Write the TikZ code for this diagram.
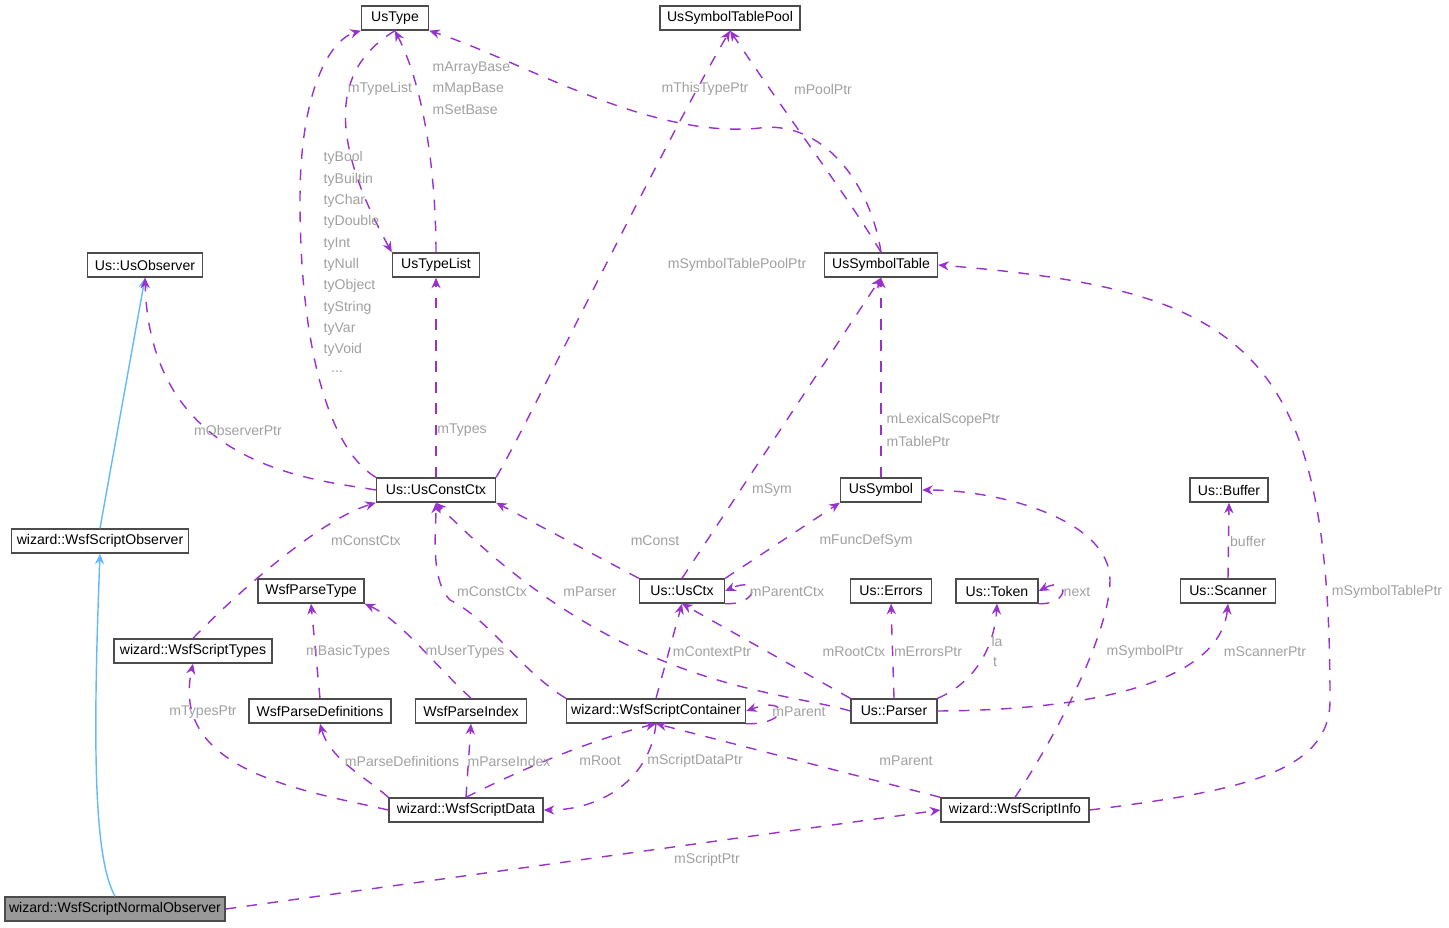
\documentclass[tikz,border=0pt]{standalone}
\usepackage{fontspec}
\setmainfont{Liberation Sans}
\usetikzlibrary{arrows.meta}
\definecolor{usepurple}{RGB}{153,50,204}
\definecolor{inhblue}{RGB}{99,184,255}
\definecolor{lblgray}{RGB}{160,160,160}
\tikzset{
  cls/.style={draw=black!70, fill=white, inner sep=0pt, minimum height=24\unitpx,
    font=\fontsize{4}{5}\selectfont},
  uses/.style={draw=usepurple, dashed, thin, -{Stealth[length=3pt,width=2.6pt]}},
  inh/.style={draw=inhblue, thin, -{Stealth[length=3pt,width=2.6pt]}},
  lbl/.style={text=lblgray, font=\fontsize{4}{5}\selectfont, inner sep=0pt, align=left},
}
\newlength{\unitpx}\setlength{\unitpx}{0.01cm}
\begin{document}
\begin{tikzpicture}[x=0.01cm,y=-0.01cm]
\useasboundingbox (0,0) rectangle (1449,928);
% classes
\node[cls, minimum width=67\unitpx] (ustype) at (395,18) {UsType};
\node[cls, minimum width=140\unitpx] (pool) at (730,18) {UsSymbolTablePool};
\node[cls, minimum width=115\unitpx] (observer) at (145,265) {Us::UsObserver};
\node[cls, minimum width=87\unitpx] (typelist) at (436,265) {UsTypeList};
\node[cls, minimum width=113\unitpx] (symtab) at (881,265) {UsSymbolTable};
\node[cls, minimum width=119\unitpx] (constctx) at (436,490) {Us::UsConstCtx};
\node[cls, minimum width=81\unitpx] (symbol) at (881,490) {UsSymbol};
\node[cls, minimum width=78\unitpx] (buffer) at (1229,490) {Us::Buffer};
\node[cls, minimum width=177\unitpx] (scriptobs) at (100,541) {wizard::WsfScriptObserver};
\node[cls, minimum width=106\unitpx] (parsetype) at (311,591) {WsfParseType};
\node[cls, minimum width=85\unitpx] (usctx) at (682,591) {Us::UsCtx};
\node[cls, minimum width=81\unitpx] (errors) at (891,591) {Us::Errors};
\node[cls, minimum width=82\unitpx] (token) at (997,591) {Us::Token};
\node[cls, minimum width=95\unitpx] (scanner) at (1228,591) {Us::Scanner};
\node[cls, minimum width=158\unitpx] (types) at (193,651) {wizard::WsfScriptTypes};
\node[cls, minimum width=142\unitpx] (parsedefs) at (320,711) {WsfParseDefinitions};
\node[cls, minimum width=111\unitpx] (parseidx) at (471,711) {WsfParseIndex};
\node[cls, minimum width=179\unitpx] (container) at (656,711) {wizard::WsfScriptContainer};
\node[cls, minimum width=86\unitpx] (parser) at (894,711) {Us::Parser};
\node[cls, minimum width=154\unitpx] (data) at (466,810) {wizard::WsfScriptData};
\node[cls, minimum width=148\unitpx] (info) at (1015,810) {wizard::WsfScriptInfo};
\node[cls, minimum width=220\unitpx, fill=black!40] (normal) at (115,909) {wizard::WsfScriptNormalObserver};
% inheritance
\draw[inh] (scriptobs.north) -- (observer.south);
\draw[inh] (normal.north) .. controls (95,860) and (92,760) .. (scriptobs.south);
% usage
\draw[uses] (constctx.north west) .. controls (330,450) and (300,350) .. (300,200) .. controls (300,90) and (330,40) .. (ustype.south west);
\draw[uses] (typelist.north) .. controls (436,200) and (430,100) .. (ustype.south);
\draw[uses] (ustype.south) .. controls (330,70) and (330,140) .. (typelist.north west);
\draw[uses] (constctx.north) -- (typelist.south);
\draw[uses] (constctx.west) .. controls (320,480) and (150,470) .. (observer.south);
\draw[uses] (constctx.north east) .. controls (530,420) and (660,150) .. (pool.south);
\draw[uses] (symtab.north) .. controls (850,200) and (790,120) .. (pool.south);
\draw[uses] (symtab.north) .. controls (870,180) and (820,120) .. (760,128) .. controls (650,140) and (520,60) .. (ustype.south east);
\draw[uses] (symbol.north) -- (symtab.south);
\draw[uses] (usctx.north) -- (symtab.south);
\draw[uses] (usctx.north west) -- (constctx.south east);
\draw[uses] (usctx.north east) -- (symbol.south west);
\draw[uses] (usctx.south east) .. controls (760,605) and (760,575) .. (usctx.east);
\draw[uses] (types.north) .. controls (240,590) and (320,520) .. (constctx.south west);
\draw[uses] (container.north west) .. controls (520,670) and (490,620) .. (450,600) .. controls (430,580) and (436,530) .. (constctx.south);
\draw[uses] (parser.west) .. controls (780,690) and (620,690) .. (constctx.south);
\draw[uses] (container.north) -- (usctx.south);
\draw[uses] (parser.north west) -- (usctx.south);
\draw[uses] (parser.north) -- (errors.south);
\draw[uses] (parser.north east) .. controls (980,680) and (995,640) .. (token.south);
\draw[uses] (token.south east) .. controls (1070,605) and (1070,575) .. (token.east);
\draw[uses] (scanner.north) -- (buffer.south);
\draw[uses] (parser.east) .. controls (1100,710) and (1220,680) .. (scanner.south);
\draw[uses] (info.north) .. controls (1060,730) and (1110,630) .. (1110,580) .. controls (1110,520) and (1000,490) .. (symbol.east);
\draw[uses] (info.east) .. controls (1250,790) and (1330,770) .. (1330,700) .. controls (1330,350) and (1250,290) .. (symtab.east);
\draw[uses] (container.south east) .. controls (790,725) and (790,695) .. (container.east);
\draw[uses] (info.north west) -- (container.south);
\draw[uses] (parsedefs.north) -- (parsetype.south);
\draw[uses] (parseidx.north) .. controls (430,660) and (400,620) .. (parsetype.south east);
\draw[uses] (data.west) .. controls (300,790) and (170,770) .. (types.south);
\draw[uses] (data.north west) .. controls (370,780) and (330,760) .. (parsedefs.south);
\draw[uses] (data.north) -- (parseidx.south);
\draw[uses] (data.north) .. controls (520,770) and (590,740) .. (container.south);
\draw[uses] (container.south) .. controls (650,780) and (600,810) .. (data.east);
\draw[uses] (normal.east) -- (info.west);
% labels
\node[lbl, anchor=west] (l1) at (323,158) {tyBool};
\node[lbl, anchor=west] (l2) at (323,180) {tyBuiltin};
\node[lbl, anchor=west] (l3) at (323,201) {tyChar};
\node[lbl, anchor=west] (l4) at (323,222) {tyDouble};
\node[lbl, anchor=west] (l5) at (323,244) {tyInt};
\node[lbl, anchor=west] (l6) at (323,265) {tyNull};
\node[lbl, anchor=west] (l7) at (323,286) {tyObject};
\node[lbl, anchor=west] (l8) at (323,308) {tyString};
\node[lbl, anchor=west] (l9) at (323,329) {tyVar};
\node[lbl, anchor=west] (l10) at (323,350) {tyVoid};
\node[lbl] (l11) at (337,372) {...};
\node[lbl, anchor=west] (l12) at (432,68) {mArrayBase};
\node[lbl, anchor=west] (l13) at (432,89) {mMapBase};
\node[lbl, anchor=west] (l14) at (432,110) {mSetBase};
\node[lbl] (l15) at (380,89) {mTypeList};
\node[lbl] (l16) at (705,89) {mThisTypePtr};
\node[lbl] (l17) at (823,89) {mPoolPtr};
\node[lbl] (l18) at (737,265) {mSymbolTablePoolPtr};
\node[lbl, anchor=west] (l19) at (886,420) {mLexicalScopePtr};
\node[lbl, anchor=west] (l20) at (886,441) {mTablePtr};
\node[lbl] (l21) at (238,430) {mObserverPtr};
\node[lbl] (l22) at (462,430) {mTypes};
\node[lbl] (l23) at (772,490) {mSym};
\node[lbl] (l24) at (366,541) {mConstCtx};
\node[lbl] (l25) at (655,541) {mConst};
\node[lbl] (l26) at (866,541) {mFuncDefSym};
\node[lbl] (l27) at (1248,541) {buffer};
\node[lbl] (l28) at (492,592) {mConstCtx};
\node[lbl] (l29) at (590,592) {mParser};
\node[lbl] (l30) at (787,592) {mParentCtx};
\node[lbl] (l31) at (1077,592) {next};
\node[lbl] (l32) at (1387,592) {mSymbolTablePtr};
\node[lbl] (l33) at (997,641) {la};
\node[lbl] (l34) at (995,662) {t};
\node[lbl] (l35) at (348,652) {mBasicTypes};
\node[lbl] (l36) at (465,652) {mUserTypes};
\node[lbl] (l37) at (712,652) {mContextPtr};
\node[lbl] (l38) at (854,652) {mRootCtx};
\node[lbl] (l39) at (928,652) {mErrorsPtr};
\node[lbl] (l40) at (1145,652) {mSymbolPtr};
\node[lbl] (l41) at (1265,652) {mScannerPtr};
\node[lbl] (l42) at (203,712) {mTypesPtr};
\node[lbl] (l43) at (799,712) {mParent};
\node[lbl] (l44) at (402,761) {mParseDefinitions};
\node[lbl] (l45) at (509,761) {mParseIndex};
\node[lbl] (l46) at (600,761) {mRoot};
\node[lbl] (l47) at (695,761) {mScriptDataPtr};
\node[lbl] (l48) at (906,761) {mParent};
\node[lbl] (l49) at (707,860) {mScriptPtr};
\end{tikzpicture}
\end{document}
